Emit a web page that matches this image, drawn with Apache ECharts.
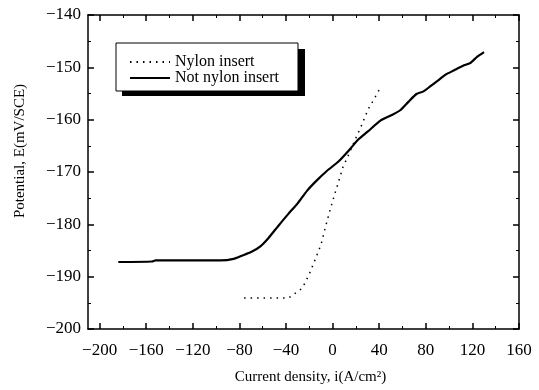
<!DOCTYPE html>
<html>
<head>
<meta charset="utf-8">
<script src="https://cdn.jsdelivr.net/npm/echarts@6/dist/echarts.min.js"></script>
<style>
  html, body { margin: 0; padding: 0; background: #fff; }
  #chart { width: 539px; height: 390px; }
</style>
</head>
<body>
<div id="chart"></div>
<script>
// values
const currentNotNylon = [-184, -155, -152, -96, -85, -78, -70, -62, -55, -47, -38, -30, -22, -14, -5, 5, 15, 22, 30, 41, 50, 58, 65, 72, 78, 84, 90, 97, 104, 112, 118, 124, 130]
const potentialNotNylon = [-187.2, -187.1, -186.9, -186.9, -186.6, -186, -185.3, -184.2, -182.6, -180.4, -178, -176, -173.6, -171.7, -169.8, -168, -165.6, -163.8, -162.3, -160.2, -159.2, -158.2, -156.6, -155.1, -154.6, -153.6, -152.6, -151.4, -150.6, -149.7, -149.2, -148, -147.1]

const currentNylon = [-76, -38, -26, -20, -16, -10, -6, -3, 0.6, 4.5, 8.8, 12.5, 18, 25, 30.5, 35, 40]
const potentialNylon = [-194.1, -194.1, -192.2, -189.5, -187.3, -183.9, -180.4, -177.9, -175.1, -172.3, -169.1, -167.3, -164.5, -161, -158, -156.3, -154.3]

const xTicks = [-200, -160, -120, -80, -40, 0, 40, 80, 120, 160]
const xMinorTicks = [-180, -140, -100, -60, -20, 20, 60, 100, 140]

const serif = '"Liberation Serif", "DejaVu Serif", serif'

const fmt = (v) => (v < 0 ? '\u2212' + Math.abs(v) : String(v))

const zip = (xs, ys) => xs.map((x, i) => [x, ys[i]])

const chart = echarts.init(document.getElementById('chart'))

const xBase = {
  type: 'value',
  min: -210,
  max: 160,
  splitLine: { show: false },
  axisLine: { show: true, onZero: false, lineStyle: { color: '#000', width: 1.5 } },
  axisTick: { inside: true, length: 6, customValues: xTicks, lineStyle: { color: '#000', width: 1.5 } },
  axisLabel: { show: false }
}
const xMinor = {
  type: 'value',
  min: -210,
  max: 160,
  splitLine: { show: false },
  axisLine: { show: false },
  axisTick: { inside: true, length: 3, customValues: xMinorTicks, lineStyle: { color: '#000', width: 1 } },
  axisLabel: { show: false }
}
const yBase = {
  type: 'value',
  min: -200,
  max: -140,
  interval: 10,
  splitLine: { show: false },
  axisLine: { show: true, onZero: false, lineStyle: { color: '#000', width: 1.5 } },
  axisTick: { inside: true, length: 6, lineStyle: { color: '#000', width: 1.5 } },
  minorTick: { show: true, splitNumber: 2, length: 3, lineStyle: { color: '#000', width: 1 } },
  axisLabel: { show: false }
}

let option = {
  animation: false,
  backgroundColor: '#fff',
  grid: { left: 88, right: 20, top: 15, bottom: 56 },
  // legend drop shadow
  graphic: [
    {
      type: 'rect',
      left: 122,
      top: 49,
      z: 1,
      shape: { width: 183, height: 47 },
      style: { fill: '#000' }
    }
  ],
  legend: {
    left: 116,
    top: 43,
    z: 5,
    orient: 'vertical',
    align: 'left',
    padding: [11, 19, 5, 13],
    itemWidth: 40,
    itemHeight: 12,
    itemGap: 0,
    backgroundColor: '#fff',
    borderColor: '#000',
    borderWidth: 1,
    itemStyle: { opacity: 0 },
    textStyle: { fontFamily: serif, fontSize: 16, lineHeight: 15, color: '#000' },
    data: ['Nylon insert', 'Not nylon insert']
  },
  xAxis: [
    Object.assign({}, xBase, {
      position: 'bottom',
      name: 'Current density, i(A/cm\u00b2)',
      nameLocation: 'middle',
      nameGap: 41,
      nameTextStyle: { fontFamily: serif, fontSize: 15, color: '#000', padding: [0, 0, 0, 14] },
      axisLabel: { show: true, customValues: xTicks, formatter: fmt, margin: 13, fontFamily: serif, fontSize: 17, color: '#000' }
    }),
    Object.assign({}, xBase, { position: 'top' }),
    Object.assign({}, xMinor, { position: 'bottom' }),
    Object.assign({}, xMinor, { position: 'top' })
  ],
  yAxis: [
    Object.assign({}, yBase, {
      position: 'left',
      name: 'Potential, E(mV/SCE)',
      nameLocation: 'middle',
      nameGap: 60,
      nameTextStyle: { fontFamily: serif, fontSize: 15, color: '#000', padding: [0, 0, 0, 42] },
      axisLabel: { show: true, formatter: fmt, margin: 7, fontFamily: serif, fontSize: 17, color: '#000' }
    }),
    Object.assign({}, yBase, { position: 'right' })
  ],
  series: [
    {
      name: 'Nylon insert',
      type: 'line',
      xAxisIndex: 0,
      yAxisIndex: 0,
      symbol: 'none',
      smooth: false,
      lineStyle: { color: '#000', width: 1.5, type: [1.5, 5] },
      itemStyle: { color: '#000' },
      data: zip(currentNylon, potentialNylon)
    },
    {
      name: 'Not nylon insert',
      type: 'line',
      xAxisIndex: 0,
      yAxisIndex: 0,
      symbol: 'none',
      smooth: 0.2,
      lineStyle: { color: '#000', width: 2.2 },
      itemStyle: { color: '#000' },
      data: zip(currentNotNylon, potentialNotNylon)
    }
  ]
}

chart.setOption(option)
</script>
</body>
</html>
